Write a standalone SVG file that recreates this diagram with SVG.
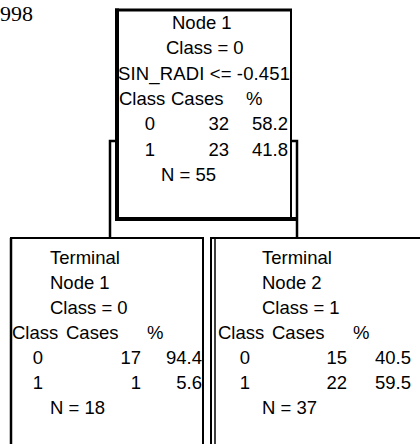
<svg xmlns="http://www.w3.org/2000/svg" width="420" height="444" viewBox="0 0 420 444">
<style>
.t{font-family:"Liberation Sans",Arial,sans-serif;font-size:18.5px;fill:#000}
.r{text-anchor:end}
.c{text-anchor:middle}
.yr{font-family:"Liberation Serif","Times New Roman",serif;font-size:22px;fill:#000}
.ln{stroke:#000;fill:none}
</style>
<rect width="420" height="444" fill="#fff"/>
<text class="yr" x="0" y="21">998</text>
<g id="connectors">
<polyline class="ln" stroke-width="2.5" points="116,141 110,141 110,238"/>
<polyline class="ln" stroke-width="2.5" points="291,141 297,141 297,238"/>
</g>
<g id="node1">
<line class="ln" x1="115" y1="10" x2="292" y2="10" stroke-width="3"/>
<line class="ln" x1="117" y1="8.5" x2="117" y2="221" stroke-width="4"/>
<line class="ln" x1="291" y1="9" x2="291" y2="221" stroke-width="2"/>
<line class="ln" x1="115" y1="219" x2="298" y2="219" stroke-width="4"/>
<text class="t" x="172" y="29">Node 1</text>
<text class="t" x="166" y="54">Class = 0</text>
<text class="t" x="118" y="80" textLength="172" lengthAdjust="spacing">SIN_RADI &lt;= -0.451</text>
<text class="t" x="119" y="105">Class</text>
<text class="t" x="171" y="105">Cases</text>
<text class="t" x="246" y="105">%</text>
<text class="t c" x="150" y="130">0</text>
<text class="t r" x="229" y="130">32</text>
<text class="t r" x="288" y="130">58.2</text>
<text class="t c" x="150" y="156">1</text>
<text class="t r" x="229" y="156">23</text>
<text class="t r" x="288" y="156">41.8</text>
<text class="t" x="161" y="181">N = 55</text>
</g>
<g id="terminal1">
<line class="ln" x1="10" y1="238" x2="204" y2="238" stroke-width="2"/>
<line class="ln" x1="11" y1="238" x2="11" y2="444" stroke-width="2.5"/>
<line class="ln" x1="203" y1="238" x2="203" y2="444" stroke-width="2"/>
<text class="t" x="50" y="264">Terminal</text>
<text class="t" x="50" y="289">Node 1</text>
<text class="t" x="50" y="314">Class = 0</text>
<text class="t" x="12" y="339">Class</text>
<text class="t" x="66" y="339">Cases</text>
<text class="t" x="147" y="339">%</text>
<text class="t c" x="38" y="364">0</text>
<text class="t r" x="141" y="364">17</text>
<text class="t r" x="202" y="364">94.4</text>
<text class="t c" x="38" y="389">1</text>
<text class="t r" x="141" y="389">1</text>
<text class="t r" x="202" y="389">5.6</text>
<text class="t" x="50" y="414">N = 18</text>
</g>
<g id="terminal2">
<line class="ln" x1="210" y1="238" x2="420" y2="238" stroke-width="2"/>
<line class="ln" x1="211" y1="238" x2="211" y2="444" stroke-width="2"/>
<line class="ln" x1="215" y1="238" x2="215" y2="444" stroke-width="1.5"/>
<text class="t" x="262" y="264">Terminal</text>
<text class="t" x="262" y="289">Node 2</text>
<text class="t" x="262" y="314">Class = 1</text>
<text class="t" x="218" y="339">Class</text>
<text class="t" x="272" y="339">Cases</text>
<text class="t" x="353" y="339">%</text>
<text class="t c" x="245" y="364">0</text>
<text class="t r" x="347" y="364">15</text>
<text class="t r" x="411" y="364">40.5</text>
<text class="t c" x="245" y="389">1</text>
<text class="t r" x="347" y="389">22</text>
<text class="t r" x="411" y="389">59.5</text>
<text class="t" x="262" y="414">N = 37</text>
</g>
</svg>
